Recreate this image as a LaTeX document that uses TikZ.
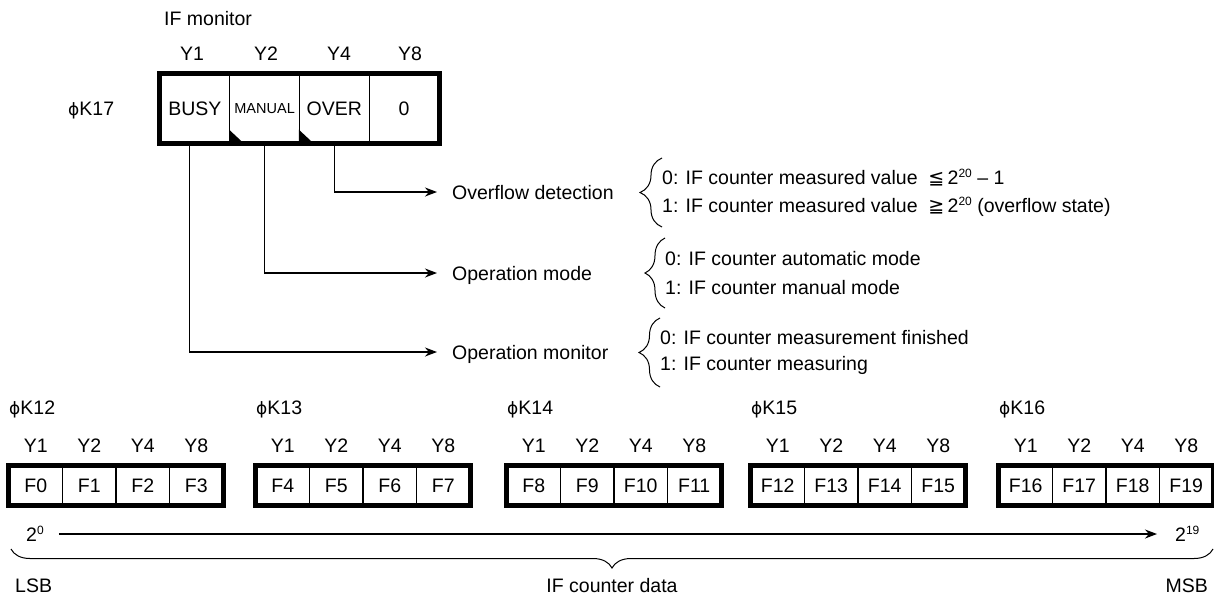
\documentclass[tikz,border=0pt]{standalone}
\usepackage{fontspec}
\setmainfont{Liberation Sans}
\newfontfamily\djv{DejaVu Sans}
\usetikzlibrary{arrows.meta,decorations.pathreplacing,calc}
\newcommand\supr[1]{\raisebox{7pt}{\fontsize{12}{12}\selectfont #1}}
\newcommand\relsym[1]{{\djv\fontsize{19}{19}\selectfont #1}}
\newcommand\phisym{{\djv\fontsize{17}{17}\selectfont ϕ}}
\begin{document}
\begin{tikzpicture}[x=1pt,y=-1pt,
  txt/.style={inner sep=0pt, text height=14pt, text depth=0pt, font=\fontsize{19.5}{23}\selectfont},
  bigcell/.style={txt, draw, line width=1.3pt, minimum width=69.75pt, minimum height=69pt},
  smallcell/.style={txt, draw, line width=1.3pt, minimum width=53.5pt, minimum height=39pt},
  regframe/.style={draw, line width=4.5pt},
  conn/.style={line width=1.2pt, -{Stealth[length=12pt,width=9pt]}},
  brc/.style={decorate, decoration={brace, amplitude=#1}, line width=1pt},
]
\useasboundingbox (0,0) rectangle (1214,595);

% ---------- IF monitor register ----------
\node[txt, anchor=west] (ifmon) at (164,18) {IF monitor};
\node[txt, anchor=west] (k17) at (68,108) {\phisym K17};

\node[bigcell] (busy) at (194.875,108.5) {BUSY};
\node[bigcell, font=\fontsize{14.5}{17}\selectfont, text height=10.4pt] (manual) at (264.625,108.5) {MANUAL};
\node[bigcell] (over) at (334.375,108.5) {OVER};
\node[bigcell] (zero) at (404.125,108.5) {0};
\draw[regframe] (busy.north west) rectangle (zero.south east);

\fill (manual.south west) -- ++(0,-14) -- ++(15,14) -- cycle;
\fill (over.south west) -- ++(0,-14) -- ++(15,14) -- cycle;

\node[txt] (ty1) at (192,53) {Y1};
\node[txt] (ty2) at (266,53) {Y2};
\node[txt] (ty4) at (339,53) {Y4};
\node[txt] (ty8) at (410,53) {Y8};

% ---------- connectors ----------
\node[txt, anchor=west] (ovf) at (452,192) {Overflow detection};
\node[txt, anchor=west] (opm) at (452,273) {Operation mode};
\node[txt, anchor=west] (opmon) at (452,352) {Operation monitor};
\draw[conn, shorten >=15pt] (over.south) |- (ovf.west);
\draw[conn, shorten >=15pt] (manual.south) |- (opm.west);
\draw[conn, shorten >=15pt] ([xshift=-5pt]busy.south) |- (opmon.west);

% ---------- braces and explanations ----------
\draw[brc=22pt] (662,227) -- (662,158);
\node[txt, anchor=west] (ov0) at (662,177) {0: IF counter measured value\ \ \relsym{≦}\,2\supr{20} – 1};
\node[txt, anchor=west] (ov1) at (662,205) {1: IF counter measured value\ \ \relsym{≧}\,2\supr{20} (overflow state)};

\draw[brc=20pt] (665,308) -- (665,238);
\node[txt, anchor=west] (md0) at (665,258) {0: IF counter automatic mode};
\node[txt, anchor=west] (md1) at (665,287) {1: IF counter manual mode};

\draw[brc=21pt] (660,387) -- (660,318);
\node[txt, anchor=west] (mn0) at (660,337) {0: IF counter measurement finished};
\node[txt, anchor=west] (mn1) at (660,363) {1: IF counter measuring};

% ---------- data registers ----------
\foreach \L/\K/\a/\b/\c/\d [count=\r] in {9/12/F0/F1/F2/F3, 256/13/F4/F5/F6/F7, 507/14/F8/F9/F10/F11, 751/15/F12/F13/F14/F15, 999/16/F16/F17/F18/F19} {
  \node[txt, anchor=west] (k\K) at (\L,407) {\phisym K\K};
  \foreach \t/\yy [count=\j] in {\a/1,\b/2,\c/4,\d/8} {
    \node[smallcell] (r\r-c\j) at ({\L+53.5*(\j-0.5)},485.5) {\t};
    \node[txt] (r\r-y\j) at ({\L+53.5*(\j-0.5)},445) {Y\yy};
  }
  \draw[regframe] (r\r-c1.north west) rectangle (r\r-c4.south east);
}

% ---------- bit order ----------
\node[txt, anchor=west] (p0) at (26,534) {2\supr{0}};
\node[txt, anchor=west] (p19) at (1175,534) {2\supr{19}};
\draw[conn, shorten <=15pt, shorten >=18pt] (p0.east) -- (p19.west);

\draw[brc=19pt] (1213,549) -- (11,549);
\node[txt, anchor=west] (lsb) at (15,585) {LSB};
\node[txt] (ifdata) at (612,585) {IF counter data};
\node[txt, anchor=east] (msb) at (1208,585) {MSB};
\end{tikzpicture}
\end{document}
